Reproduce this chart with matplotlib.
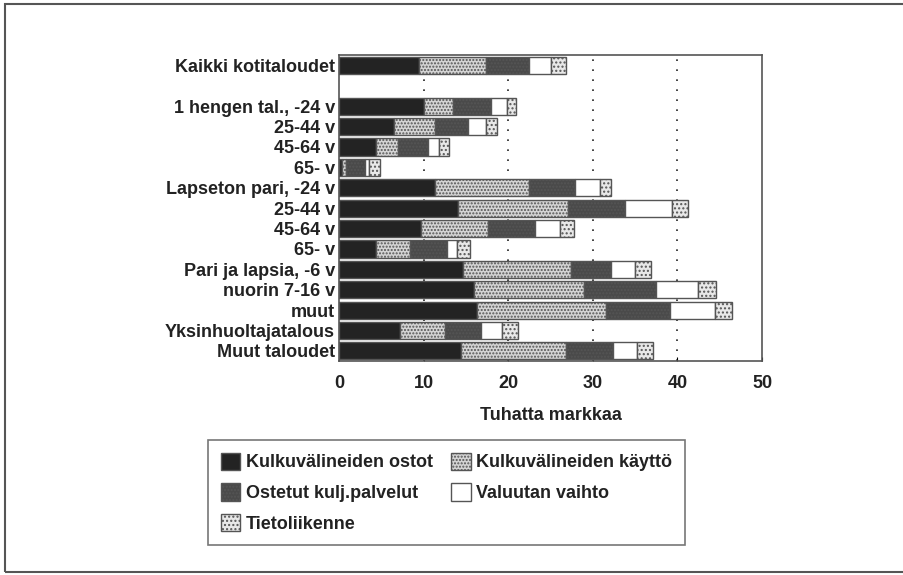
import matplotlib.pyplot as plt
import matplotlib.patches as mpatches
import numpy as np

plt.rcParams['font.family'] = ['Liberation Sans', 'DejaVu Sans']
plt.rcParams['hatch.linewidth'] = 1.0

groups = ['Kaikki kotitaloudet', '',
          '1 hengen tal., -24 v', '25-44 v', '45-64 v', '65- v',
          'Lapseton pari, -24 v', '25-44 v', '45-64 v', '65- v',
          'Pari ja lapsia, -6 v', 'nuorin 7-16 v', 'muut',
          'Yksinhuoltajatalous', 'Muut taloudet']

# tuhatta markkaa, one value per group (blank row = 0)
ostot =    [9.5, 0, 10.1, 6.5, 4.4, 0.4, 11.3, 14.1, 9.7, 4.4, 14.7, 16.0, 16.3, 7.2, 14.4]
kaytto =   [7.9, 0, 3.4, 4.9, 2.6, 0.4, 11.1, 13.0, 7.9, 4.0, 12.7, 12.9, 15.3, 5.3, 12.4]
ostetut =  [5.0, 0, 4.5, 3.8, 3.5, 2.3, 5.5, 6.7, 5.6, 4.4, 4.7, 8.6, 7.5, 4.3, 5.6]
valuutta = [2.6, 0, 1.8, 2.2, 1.3, 0.4, 2.9, 5.5, 2.9, 1.2, 2.9, 4.9, 5.3, 2.5, 2.8]
tieto =    [1.8, 0, 1.1, 1.3, 1.2, 1.4, 1.4, 1.9, 1.7, 1.5, 1.9, 2.1, 2.0, 1.9, 1.9]

series = [
    ('Kulkuvälineiden ostot', ostot, '#232323', None),
    ('Kulkuvälineiden käyttö', kaytto, '#d4d4d4', '.....'),
    ('Ostetut kulj.palvelut', ostetut, '#4a4a4a', '.....'),
    ('Valuutan vaihto', valuutta, '#ffffff', None),
    ('Tietoliikenne', tieto, '#e8e8e8', '....'),
]

FS = 13

fig = plt.figure(figsize=(9.04, 5.75), dpi=100)
ax = fig.add_axes([0.375, 0.372, 0.468, 0.532])

y = np.arange(len(groups))
left = np.zeros(len(groups))
handles = {}
for name, vals, fc, hatch in series:
    vals = np.array(vals)
    mask = vals > 0
    bars = ax.barh(y[mask], vals[mask], left=left[mask], height=0.84,
                   color=fc, edgecolor='#555555', linewidth=1.0, hatch=hatch,
                   zorder=3)
    handles[name] = bars
    left += vals

for gx in [10, 20, 30, 40]:
    ax.axvline(gx, color='#222222', linestyle=(0, (1, 5)), linewidth=1.2, zorder=1)

ax.set_xlim(0, 50)
ax.set_ylim(len(groups) - 0.5, -0.5)
ax.set_xticks([0, 10, 20, 30, 40, 50])
ax.set_yticks(y)
ax.set_yticklabels(groups)
ax.tick_params(axis='y', length=0, pad=3, labelsize=FS)
ax.tick_params(axis='x', direction='in', length=3, pad=10, labelsize=FS)
for lab in ax.get_xticklabels() + ax.get_yticklabels():
    lab.set_fontweight('bold')
    lab.set_color('#222222')
for sp in ax.spines.values():
    sp.set_color('#555555')
    sp.set_linewidth(1.2)
ax.set_xlabel('Tuhatta markkaa', fontsize=FS, fontweight='bold',
              color='#222222', labelpad=11)

order = ['Kulkuvälineiden ostot', 'Ostetut kulj.palvelut', 'Tietoliikenne',
         'Kulkuvälineiden käyttö', 'Valuutan vaihto']
leg = fig.legend([handles[k] for k in order], order, ncol=2,
                 loc='upper left', bbox_to_anchor=(208 / 904, 1 - 440 / 575),
                 borderaxespad=0, frameon=True, fancybox=False,
                 edgecolor='#555555',
                 handlelength=1.1, handleheight=1.1, handletextpad=0.3,
                 columnspacing=1.0, labelspacing=0.65, borderpad=0.7,
                 prop={'size': FS, 'weight': 'bold'})
leg.get_frame().set_linewidth(1.2)
for t in leg.get_texts():
    t.set_color('#222222')

# outer frame
fig.patches.append(mpatches.Rectangle((5 / 904, 3 / 575), 1.0, 1 - 7 / 575,
                                      transform=fig.transFigure, fill=False,
                                      edgecolor='#555555', linewidth=1.5))

fig.savefig('out.png', dpi=100)
